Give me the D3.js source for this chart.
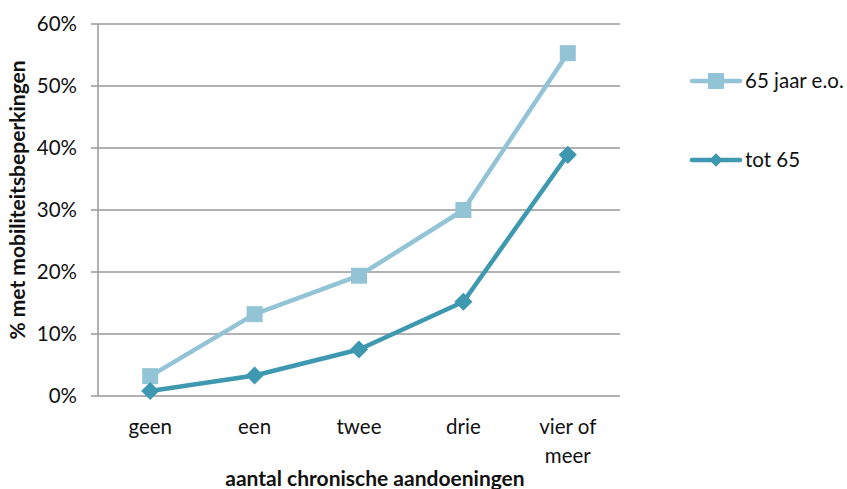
<!DOCTYPE html>
<html><head><meta charset="utf-8">
<script src="https://cdn.jsdelivr.net/npm/d3@7"></script>
<style>body{margin:0;background:#fff}svg{display:block}text{font-family:Lato,"Open Sans",sans-serif}</style>
</head><body><svg id="c" width="847" height="489"></svg>
<script>
const categories = [["geen"],["een"],["twee"],["drie"],["vier of","meer"]];
const catKeys = ["geen","een","twee","drie","vier of meer"];
const seriesNames = ["65 jaar e.o.","tot 65"];
const values65plus = [0.032,0.132,0.194,0.300,0.553];
const valuesTot65 = [0.008,0.033,0.075,0.152,0.389];
const yTicks = [0,0.1,0.2,0.3,0.4,0.5,0.6];

const svg = d3.select("#c");
const L=98,R=620,T=24,B=396;
const FS=20.5;
const x = d3.scaleBand().domain(catKeys).range([L,R]);
const y = d3.scaleLinear().domain([0,0.6]).range([B,T]);
const colors = ["#93C4D6","#3D98B0"];

svg.append("g").selectAll("line").data(yTicks).join("line")
  .attr("x1",L-7).attr("x2",R).attr("y1",d=>y(d)).attr("y2",d=>y(d))
  .attr("stroke","#989898").attr("stroke-width",1.5);
svg.append("line").attr("x1",L).attr("x2",L).attr("y1",T).attr("y2",B)
  .attr("stroke","#989898").attr("stroke-width",1.5);
svg.append("g").selectAll("text").data(yTicks).join("text")
  .attr("x",77).attr("y",d=>y(d)+7).attr("text-anchor","end")
  .attr("font-size",FS).attr("fill","#111").text(d=>d3.format(".0%")(d));
const xl = svg.append("g").selectAll("text").data(catKeys).join("text")
  .attr("x",d=>x(d)+x.bandwidth()/2).attr("y",434).attr("text-anchor","middle")
  .attr("font-size",FS).attr("fill","#111");
xl.each(function(d,i){
  d3.select(this).selectAll("tspan").data(categories[i]).join("tspan")
    .attr("x",x(d)+x.bandwidth()/2).attr("dy",(t,j)=>j?29:0).text(t=>t);
});
svg.append("text").attr("x",375).attr("y",486).attr("text-anchor","middle")
  .attr("font-size",21).attr("font-weight","bold").attr("fill","#111").text("aantal chronische aandoeningen");
svg.append("text").attr("transform","translate(25,200) rotate(-90)").attr("text-anchor","middle")
  .attr("font-size",21).attr("font-weight","bold").attr("fill","#111").text("% met mobiliteitsbeperkingen");

const line = d3.line().x((d,i)=>x(catKeys[i])+x.bandwidth()/2).y(d=>y(d));
const data=[values65plus,valuesTot65];
const sq = d3.symbol().type(d3.symbolSquare).size(256);
const dm = d3.symbol().type(d3.symbolSquare).size(165);
const rot = s => s ? " rotate(45)" : "";
data.forEach((vals,s)=>{
  svg.append("path").attr("d",line(vals)).attr("fill","none").attr("stroke",colors[s])
    .attr("stroke-width",4.5).attr("stroke-linejoin","round");
  svg.append("g").selectAll("path").data(vals).join("path")
    .attr("transform",(d,i)=>`translate(${x(catKeys[i])+x.bandwidth()/2},${y(d)})`+rot(s))
    .attr("d",s?dm():sq()).attr("fill",colors[s]);
});
const ly=[81,160];
seriesNames.forEach((n,s)=>{
  svg.append("line").attr("x1",692).attr("x2",740).attr("y1",ly[s]).attr("y2",ly[s])
    .attr("stroke",colors[s]).attr("stroke-width",4.5).attr("stroke-linecap","round");
  svg.append("path").attr("transform",`translate(716,${ly[s]})`+(s?" rotate(45) scale(0.75)":"")).attr("d",s?dm():sq()).attr("fill",colors[s]);
  svg.append("text").attr("x",745).attr("y",ly[s]+7).attr("font-size",FS).attr("fill","#111").text(n);
});
</script></body></html>
